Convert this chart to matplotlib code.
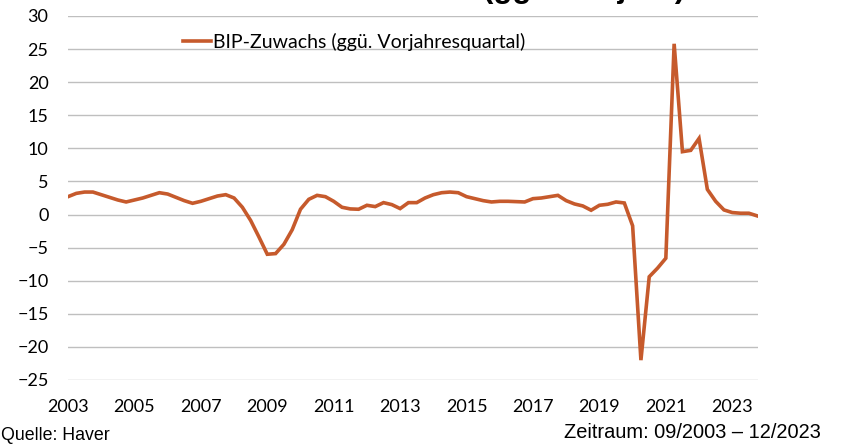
import matplotlib.pyplot as plt

# BIP-Zuwachs ggü. Vorjahresquartal in %, Quartale ab 2003
wachstum = [
    2.7, 3.2, 3.4, 3.4, 3.0, 2.6, 2.2, 1.9,
    2.2, 2.5, 2.9, 3.3, 3.1, 2.6, 2.1, 1.7,
    2.0, 2.4, 2.8, 3.0, 2.5, 1.1, -0.9, -3.4,
    -6.0, -5.9, -4.5, -2.3, 0.8, 2.3, 2.9, 2.7,
    2.0, 1.1, 0.85, 0.8, 1.4, 1.2, 1.8, 1.5,
    0.9, 1.8, 1.8, 2.5, 3.0, 3.3, 3.4, 3.3,
    2.7, 2.4, 2.1, 1.9, 2.0, 2.0, 1.95, 1.9,
    2.4, 2.5, 2.7, 2.9, 2.1, 1.6, 1.3, 0.65,
    1.4, 1.55, 1.9, 1.75, -1.7, -22.0, -9.4, -8.1,
    -6.6, 25.8, 9.5, 9.7, 11.5, 3.8, 2.0, 0.7,
    0.3, 0.2, 0.2, -0.2,
]
jahre = ["2003", "2005", "2007", "2009", "2011", "2013",
         "2015", "2017", "2019", "2021", "2023"]
y_ticks = [30, 25, 20, 15, 10, 5, 0, -5, -10, -15, -20, -25]

quartale = list(range(len(wachstum)))
jahr_pos = [8 * k for k in range(len(jahre))]

schrift = "Lato"
fuss = "Liberation Sans"

fig = plt.figure(figsize=(8.48, 4.46), dpi=100)
ax = fig.add_axes([68 / 848, 1 - 380 / 446, 690 / 848, 364 / 446])

ax.plot(quartale, wachstum, color="#C65A2C", linewidth=2.6,
        solid_joinstyle="miter", label="BIP-Zuwachs (ggü. Vorjahresquartal)")

ax.set_xlim(0, 83.1)
ax.set_ylim(-25, 30)
ax.set_yticks(y_ticks)
ax.set_xticks(jahr_pos)
ax.set_xticklabels(jahre)
ax.grid(axis="y", color="#BFBFBF", linewidth=1.0)
ax.set_axisbelow(True)
for s in ax.spines.values():
    s.set_visible(False)
ax.tick_params(axis="both", length=0, labelsize=13)
ax.tick_params(axis="x", pad=14)
ax.tick_params(axis="y", pad=14)
for lab in ax.get_xticklabels() + ax.get_yticklabels():
    lab.set_fontfamily(schrift)

ax.legend(loc="upper left", bbox_to_anchor=(107 / 690, 1 - 9 / 364),
          frameon=False, handlelength=1.45, handletextpad=0.1,
          borderaxespad=0, prop={"family": schrift, "size": 14})

# abgeschnittener Titel oben
fig.text(483 / 848, 1 + 3 / 446, "(ggü. Vorjahr)", fontsize=22.5,
         fontweight="bold", family="Liberation Sans", va="baseline")

fig.text(1 / 848, 2 / 446, "Quelle: Haver", fontsize=12.8, family=fuss,
         va="bottom")
fig.text(821 / 848, 4 / 446, "Zeitraum: 09/2003 \u2013 12/2023", fontsize=14.4,
         family=fuss, va="bottom", ha="right")

fig.savefig("out.png", dpi=100)
